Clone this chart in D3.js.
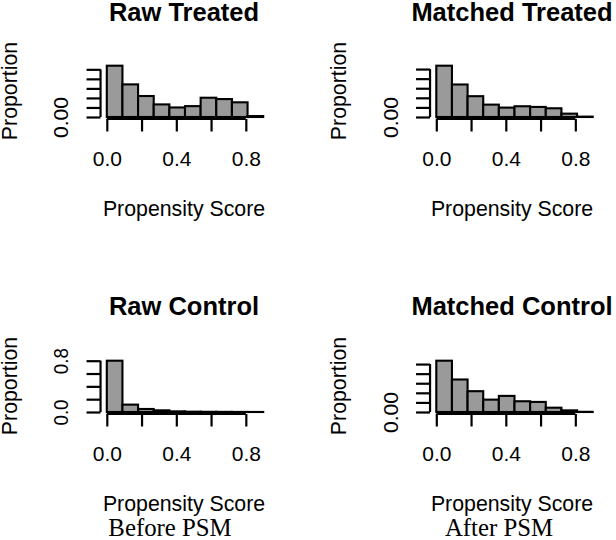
<!DOCTYPE html>
<html><head><meta charset="utf-8">
<script src="https://cdn.jsdelivr.net/npm/d3@7"></script>
<style>body{margin:0;background:#fff} svg{display:block}</style>
</head><body><svg id="c" width="616" height="540"></svg>
<script>
// ---- data ----
// 10 equal bins from 0 to 0.9 (width 0.09)
const binEdges = [0.00,0.09,0.18,0.27,0.36,0.45,0.54,0.63,0.72,0.81,0.90];
const rawTreated     = [0.269,0.171,0.110,0.066,0.050,0.057,0.101,0.094,0.077,0.005];
const matchedTreated = [0.2675,0.1695,0.1085,0.0645,0.049,0.056,0.0525,0.0455,0.0175,0.002];
const rawControl     = [0.800,0.115,0.047,0.026,0.010,0.005,0.003,0.002,0.001,0.0005];
const matchedControl = [0.2675,0.1695,0.1085,0.0645,0.084,0.056,0.0525,0.0225,0.0085,0.001];
const xTicks = [0.0,0.2,0.4,0.6,0.8];
const xTickLabels = ["0.0","","0.4","","0.8"];
const yTicksSmall = [0,0.05,0.10,0.15,0.20,0.25];
const yLabelsSmall = ["0.00","","","","",""];
const yTicksLarge = [0,0.2,0.4,0.6,0.8];
const yLabelsLarge = ["0.0","","","","0.8"];
const titles = ["Raw Treated","Matched Treated","Raw Control","Matched Control"];
const xTitle = "Propensity Score";
const yTitle = "Proportion";
const captions = ["Before PSM","After PSM"];

const svg = d3.select("#c");
const SANS = "'Liberation Sans', Arial, Helvetica, sans-serif";
const SERIF = "'Liberation Serif', 'Times New Roman', serif";

const panels = [
  {title:titles[0], data:rawTreated,     yT:yTicksSmall, yL:yLabelsSmall, x0:106.8, base:117, cx:184, tx:20.5},
  {title:titles[1], data:matchedTreated, yT:yTicksSmall, yL:yLabelsSmall, x0:436.3, base:117, cx:512, tx:20.5},
  {title:titles[2], data:rawControl,     yT:yTicksLarge, yL:yLabelsLarge, x0:106.8, base:412, cx:184, tx:314.5},
  {title:titles[3], data:matchedControl, yT:yTicksSmall, yL:yLabelsSmall, x0:436.3, base:412, cx:512, tx:314.5}
];
const xSpan = 156.4;   // pixels for 0..0.9
const barMaxH = 51.3;  // pixels for data max

panels.forEach((p, pi) => {
  const x = d3.scaleLinear().domain([0, 0.9]).range([p.x0, p.x0 + xSpan]);
  const ymax = d3.max(p.data);
  const y = d3.scaleLinear().domain([0, ymax]).range([p.base, p.base - barMaxH]);
  const g = svg.append("g");

  // bars
  g.selectAll("rect").data(p.data).enter().append("rect")
    .attr("x", (d,i) => x(binEdges[i]))
    .attr("width", (d,i) => x(binEdges[i+1]) - x(binEdges[i]))
    .attr("y", d => y(d))
    .attr("height", d => Math.max(0, p.base - y(d)))
    .attr("fill", "#9a9a9a")
    .attr("stroke", "#000")
    .attr("stroke-width", 2.1);

  // y axis
  const axX = p.x0 - 0.036 * (xSpan / 0.9);
  const yAxis = d3.axisLeft(y).tickValues(p.yT).tickSize(14).tickSizeOuter(0)
    .tickFormat((d,i) => p.yL[i]);
  const ya = g.append("g").attr("transform", `translate(${axX},0)`).call(yAxis);
  ya.select(".domain").remove();
  ya.selectAll(".tick line").attr("stroke", "#000").attr("stroke-width", 2.2);
  ya.selectAll(".tick text")
    .attr("transform", "rotate(-90)")
    .attr("x", 0).attr("y", -32.5).attr("dy", 0)
    .attr("text-anchor", "middle")
    .attr("font-family", SANS).attr("font-size", 21).attr("fill", "#000")
    .each(function(d,i){
      const t = p.yL[i];
      if (t) d3.select(this).attr("textLength", t.length === 4 ? 41 : 26).attr("lengthAdjust", "spacingAndGlyphs");
    });
  ya.append("line")
    .attr("x1", 0).attr("x2", 0)
    .attr("y1", y(p.yT[0])).attr("y2", y(p.yT[p.yT.length-1]))
    .attr("stroke", "#000").attr("stroke-width", 2.2);

  // x axis
  const axY = p.base + 2;
  const xAxis = d3.axisBottom(x).tickValues(xTicks).tickSize(12.5).tickSizeOuter(0)
    .tickFormat((d,i) => xTickLabels[i]);
  const xa = g.append("g").attr("transform", `translate(0,${axY})`).call(xAxis);
  xa.select(".domain").remove();
  xa.selectAll(".tick line").attr("stroke", "#000").attr("stroke-width", 2.2);
  xa.selectAll(".tick text")
    .attr("y", 47).attr("dy", 0)
    .attr("font-family", SANS).attr("font-size", 21).attr("fill", "#000");
  xa.append("line")
    .attr("x1", x(xTicks[0])).attr("x2", x(xTicks[xTicks.length-1]))
    .attr("y1", 0).attr("y2", 0)
    .attr("stroke", "#000").attr("stroke-width", 2.2);

  // title
  g.append("text").attr("x", p.cx).attr("y", p.tx)
    .attr("text-anchor", "middle").attr("font-family", SANS)
    .attr("font-weight", "bold").attr("font-size", 25.5).attr("fill", "#000")
    .text(p.title);

  // axis titles
  g.append("text").attr("x", p.cx).attr("y", p.base + 99)
    .attr("text-anchor", "middle").attr("font-family", SANS)
    .attr("font-size", 21.3).attr("fill", "#000").text(xTitle);
  const ytx = (pi % 2 === 0) ? 17 : 346;
  const yty = p.base - 26;
  g.append("text").attr("transform", `translate(${ytx},${yty}) rotate(-90)`)
    .attr("text-anchor", "middle").attr("font-family", SANS)
    .attr("font-size", 21.3).attr("fill", "#000").text(yTitle);
});

svg.append("text").attr("x", 170).attr("y", 536).attr("text-anchor", "middle")
  .attr("font-family", SERIF).attr("font-size", 24.8).attr("fill", "#000").text(captions[0]);
svg.append("text").attr("x", 499).attr("y", 536).attr("text-anchor", "middle")
  .attr("font-family", SERIF).attr("font-size", 24.8).attr("fill", "#000").text(captions[1]);
</script></body></html>
